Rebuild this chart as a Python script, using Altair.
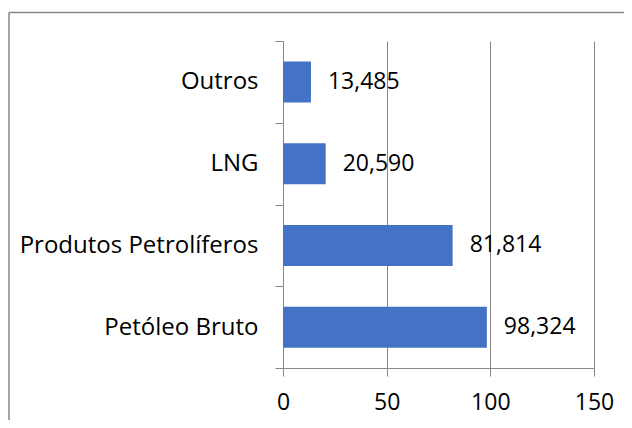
import altair as alt
import pandas as pd

categories = ["Outros", "LNG", "Produtos Petrolíferos", "Petóleo Bruto"]
values = [13.485, 20.590, 81.814, 98.324]
x_ticks = [0, 50, 100, 150]

labels = [f"{v:.3f}".replace(".", ",") for v in values]
df = pd.DataFrame({"cat": categories, "val": values, "label": labels})

FONT = "Open Sans"
GRAY = "#878787"
FS = 23
FS_CAT = 24

y_enc = alt.Y(
    "cat:N", sort=categories, title=None,
    scale=alt.Scale(paddingInner=0, paddingOuter=0),
    axis=alt.Axis(tickBand="extent", domainColor=GRAY, tickColor=GRAY, tickSize=8,
                  labelFont=FONT, labelFontSize=FS_CAT, labelColor="black",
                  labelPadding=17, labelLimit=0, grid=False),
)
x_enc = alt.X(
    "val:Q", title=None,
    scale=alt.Scale(domain=[0, 150], nice=False),
    axis=alt.Axis(values=x_ticks, grid=True, gridColor=GRAY, domainColor=GRAY,
                  tickColor=GRAY, tickSize=8, labelFont=FONT, labelFontSize=FS,
                  labelColor="black", labelPadding=15, labelFlush=False),
)

bars = alt.Chart(df).mark_bar(size=41, color="#4472C4").encode(x=x_enc, y=y_enc)
text = alt.Chart(df).mark_text(
    align="left", baseline="middle", dx=17, font=FONT, fontSize=FS, color="black"
).encode(x="val:Q", y=alt.Y("cat:N", sort=categories), text="label:N")

frame_df = pd.DataFrame({"a": [0]})
top_line = alt.Chart(frame_df).mark_rule(color=GRAY, strokeWidth=1.5).encode(
    x=alt.value(-274), x2=alt.value(349), y=alt.value(-28.5))
left_line = alt.Chart(frame_df).mark_rule(color=GRAY, strokeWidth=1.5).encode(
    x=alt.value(-274), y=alt.value(-28.5), y2=alt.value(390))

chart = alt.layer(bars, text, top_line, left_line).properties(
    width=311, height=327,
    autosize=alt.AutoSizeParams(type="none"),
    padding={"left": 275, "top": 33, "right": 30, "bottom": 52},
).configure_view(stroke=None)

chart.save("out.html", embed_options={"renderer": "svg", "actions": False})
